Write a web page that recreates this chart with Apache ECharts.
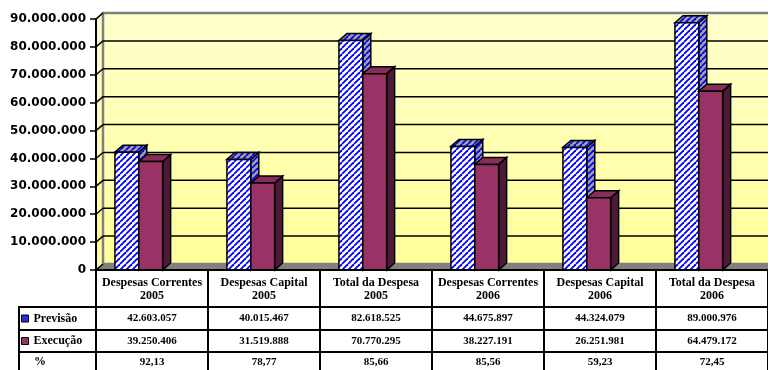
<!DOCTYPE html>
<html>
<head>
<meta charset="utf-8">
<script src="https://cdn.jsdelivr.net/npm/echarts@6/dist/echarts.min.js"></script>
<style>
  html, body { margin: 0; padding: 0; background: #ffffff; }
  #grafico { width: 768px; height: 370px; }
</style>
</head>
<body>
<div id="grafico"></div>
<script>
// Categorias (rubricas de despesa por ano)
const categorias = [
  'Despesas Correntes\n2005', 'Despesas Capital\n2005', 'Total da Despesa\n2005',
  'Despesas Correntes\n2006', 'Despesas Capital\n2006', 'Total da Despesa\n2006'
];
// Valores previstos e executados
const previsao = [42603057, 40015467, 82618525, 44675897, 44324079, 89000976];
const execucao = [39250406, 31519888, 70770295, 38227191, 26251981, 64479172];
// Taxa de execução (%)
const percentual = ['92,13', '78,77', '85,66', '85,56', '59,23', '72,45'];
// Marcas do eixo dos valores
const marcasEixo = [0, 10000000, 20000000, 30000000, 40000000, 50000000, 60000000, 70000000, 80000000, 90000000];
const nomesSeries = ['Previsão', 'Execução'];

const milhar = n => String(n).replace(/\B(?=(\d{3})+(?!\d))/g, '.');

// Padrão tracejado azul em diagonal
function tracejado(fundo, tam, espessura) {
  const c = document.createElement('canvas');
  c.width = c.height = tam;
  const g = c.getContext('2d');
  g.fillStyle = fundo;
  g.fillRect(0, 0, tam, tam);
  g.strokeStyle = '#0000ff';
  g.lineWidth = espessura;
  for (let k = -1; k <= 1; k++) {
    g.beginPath();
    g.moveTo(k * tam, tam);
    g.lineTo(k * tam + tam, 0);
    g.stroke();
  }
  return { image: c, repeat: 'repeat' };
}
const riscadoFrente = tracejado('#ffffff', 6, 1.8);
const riscadoLado = tracejado('#a0a0a0', 6, 1.8);

// Profundidade da perspetiva
const PAREDE_DX = 7, PAREDE_DY = -6;
const BARRA_DX = 8, BARRA_DY = -7;

const estilos = [
  { frente: riscadoFrente, topo: riscadoLado, lado: riscadoLado },
  { frente: '#993366', topo: '#862d59', lado: '#4d1a33' }
];

function barra3d(s) {
  return function (params, api) {
    const i = api.value(0), v = api.value(1);
    const base = api.coord([i, 0]);
    const alto = api.coord([i, v]);
    const larg = api.size([1, 0])[0];
    const w = larg * 0.213;
    const x = base[0] - larg * 0.331 + s * w;
    const y0 = base[1], y1 = alto[1] + 1;
    const st = estilos[s];
    const contorno = { stroke: '#000000', lineWidth: 1.5, lineJoin: 'miter' };
    return {
      type: 'group',
      children: [
        { type: 'polygon', shape: { points: [[x + w, y1], [x + w + BARRA_DX, y1 + BARRA_DY], [x + w + BARRA_DX, y0 + BARRA_DY], [x + w, y0]] },
          style: Object.assign({ fill: st.lado }, contorno) },
        { type: 'polygon', shape: { points: [[x, y1], [x + BARRA_DX, y1 + BARRA_DY], [x + w + BARRA_DX, y1 + BARRA_DY], [x + w, y1]] },
          style: Object.assign({ fill: st.topo }, contorno) },
        { type: 'rect', shape: { x: x, y: y1, width: w, height: y0 - y1 },
          style: Object.assign({ fill: st.frente }, contorno) }
      ]
    };
  };
}

const gradParede = new echarts.graphic.LinearGradient(0, 0, 0, 1, [
  { offset: 0, color: '#ffffcc' }, { offset: 1, color: '#ffff99' }
]);

const fonteTabela = 'bold 11px "Liberation Serif"';

const grafico = echarts.init(document.getElementById('grafico'), null, { renderer: 'canvas' });

grafico.setOption({
  animation: false,
  backgroundColor: '#ffffff',
  grid: { left: 96, right: -4, top: 19, bottom: 100, containLabel: false },
  legend: {
    orient: 'vertical',
    left: 21,
    top: 311.5,
    padding: 0,
    itemGap: 8.5,
    itemWidth: 7,
    itemHeight: 7,
    icon: 'rect',
    selectedMode: false,
    textStyle: { fontFamily: 'Liberation Serif', fontWeight: 'bold', fontSize: 12, color: '#000', lineHeight: 14 },
    data: [
      { name: 'Previsão', itemStyle: { color: '#2b2bd9', borderColor: '#000', borderWidth: 1 } },
      { name: 'Execução', itemStyle: { color: '#993366', borderColor: '#000', borderWidth: 1 } }
    ]
  },
  xAxis: {
    type: 'category',
    data: categorias,
    z: 10,
    axisLine: { lineStyle: { color: '#000', width: 2 } },
    axisTick: { show: true, length: 100, lineStyle: { color: '#000', width: 2 } },
    axisLabel: {
      interval: 0, margin: 6, color: '#000',
      fontFamily: 'Liberation Serif', fontWeight: 'bold', fontSize: 12, lineHeight: 13
    },
    splitLine: { show: false }
  },
  yAxis: {
    type: 'value',
    min: 0, max: 90000000, interval: 10000000,
    z: 10,
    axisLine: { show: true, lineStyle: { color: '#000', width: 2 } },
    axisTick: { show: true, length: 6, lineStyle: { color: '#000', width: 1.5 } },
    axisLabel: {
      margin: 10, color: '#000',
      fontFamily: 'DejaVu Sans', fontWeight: 'bold', fontSize: 12,
      formatter: v => milhar(v)
    },
    splitLine: { show: false }
  },
  series: [
    {
      // paredes e chão
      type: 'custom', name: 'parede', z: 1, silent: true,
      data: [[0, marcasEixo[marcasEixo.length - 1]]],
      renderItem: function (params, api) {
        const cs = params.coordSys;
        const b = api.coord([0, 0]);
        const t = api.coord([0, api.value(1)]);
        const x0 = cs.x, x1 = cs.x + cs.width + 10;
        const yb = b[1], yt = t[1];
        return {
          type: 'group',
          children: [
            { type: 'polygon', shape: { points: [[x0, yb], [x0, yt], [x0 + PAREDE_DX, yt + PAREDE_DY], [x0 + PAREDE_DX, yb + PAREDE_DY]] },
              style: { fill: gradParede, stroke: '#808080', lineWidth: 1.5 } },
            { type: 'rect', shape: { x: x0 + PAREDE_DX, y: yt + PAREDE_DY, width: x1 - x0, height: yb - yt } ,
              style: { fill: gradParede, stroke: '#808080', lineWidth: 2.5 } },
            { type: 'polygon', shape: { points: [[x0, yb], [x0 + PAREDE_DX, yb + PAREDE_DY], [x1 + PAREDE_DX, yb + PAREDE_DY], [x1, yb]] },
              style: { fill: '#808080', stroke: '#808080', lineWidth: 1 } }
          ]
        };
      }
    },
    {
      // linhas de grelha na parede do fundo
      type: 'custom', name: 'grelha', z: 2, silent: true,
      data: marcasEixo.map(v => [0, v]),
      renderItem: function (params, api) {
        const cs = params.coordSys;
        const v = api.value(1);
        const y = api.coord([0, v])[1];
        const x0 = cs.x, x1 = cs.x + cs.width + 10;
        const filhos = [
          { type: 'line', shape: { x1: x0, y1: y, x2: x0 + PAREDE_DX, y2: y + PAREDE_DY },
            style: { stroke: '#000', lineWidth: 1.5 } }
        ];
        if (v > 0 && v < marcasEixo[marcasEixo.length - 1]) {
          filhos.push({ type: 'line', shape: { x1: x0 + PAREDE_DX, y1: y + PAREDE_DY, x2: x1, y2: y + PAREDE_DY },
            style: { stroke: '#000', lineWidth: 1.5 } });
        }
        return { type: 'group', children: filhos };
      }
    },
    {
      type: 'custom', name: nomesSeries[0], z: 3,
      itemStyle: { color: '#2b2bd9' },
      data: previsao.map((v, i) => [i, v]),
      encode: { x: 0, y: 1 },
      renderItem: barra3d(0)
    },
    {
      type: 'custom', name: nomesSeries[1], z: 4,
      itemStyle: { color: '#993366' },
      data: execucao.map((v, i) => [i, v]),
      encode: { x: 0, y: 1 },
      renderItem: barra3d(1)
    },
    {
      // tabela de dados sob o gráfico
      type: 'custom', name: 'tabela', z: 5, silent: true,
      data: categorias.map((c, i) => [i, 0]),
      renderItem: function (params, api) {
        const i = api.value(0);
        const p = api.coord([i, 0]);
        const linhas = [milhar(previsao[i]), milhar(execucao[i]), percentual[i]];
        const desl = [48.5, 71, 92];
        return {
          type: 'group',
          children: linhas.map((t, k) => ({
            type: 'text', x: p[0], y: p[1] + desl[k],
            style: { text: t, font: fonteTabela, fill: '#000', align: 'center', verticalAlign: 'middle' }
          }))
        };
      }
    }
  ],
  graphic: [
    { type: 'line', shape: { x1: 19, y1: 307, x2: 768, y2: 307 }, style: { stroke: '#000', lineWidth: 2 }, z: 20 },
    { type: 'line', shape: { x1: 19, y1: 330, x2: 768, y2: 330 }, style: { stroke: '#000', lineWidth: 2 }, z: 20 },
    { type: 'line', shape: { x1: 19, y1: 352, x2: 768, y2: 352 }, style: { stroke: '#000', lineWidth: 2 }, z: 20 },
    { type: 'line', shape: { x1: 19, y1: 306, x2: 19, y2: 372 }, style: { stroke: '#000', lineWidth: 2 }, z: 20 },
    { type: 'text', x: 40, y: 362, style: { text: '%', font: 'bold 12px "Liberation Serif"', fill: '#000', align: 'center', verticalAlign: 'middle' }, z: 20 }
  ]
});
</script>
</body>
</html>
